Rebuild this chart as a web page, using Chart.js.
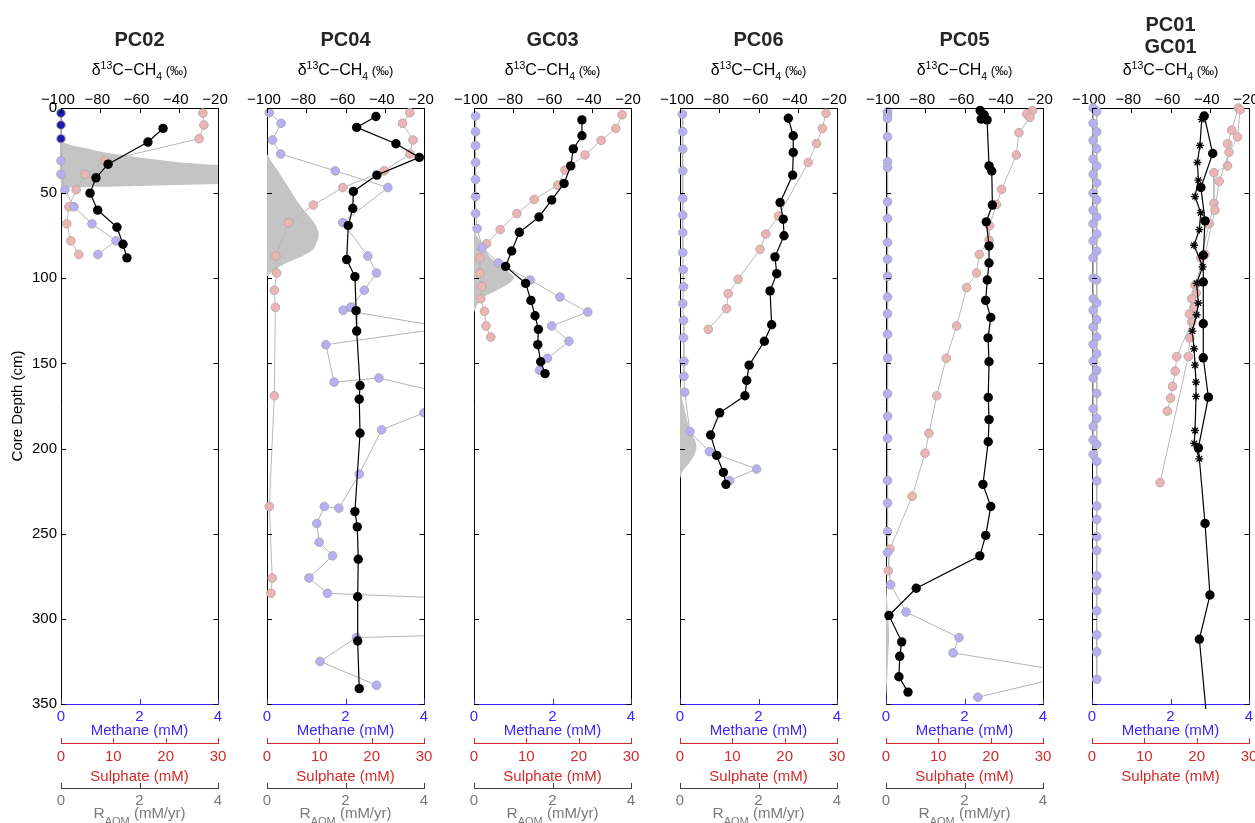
<!DOCTYPE html>
<html>
<head>
<meta charset="utf-8">
<script src="https://cdn.jsdelivr.net/npm/chart.js@4.4.1/dist/chart.umd.min.js"></script>
<style>
  body { margin: 0; background: #fff; width: 1255px; height: 823px; overflow: hidden; position: relative; }
  canvas { position: absolute; top: 0; }
</style>
</head>
<body>
<canvas id="c0" width="240" height="823" style="left:0px"></canvas>
<canvas id="c1" width="240" height="823" style="left:206px"></canvas>
<canvas id="c2" width="240" height="823" style="left:413px"></canvas>
<canvas id="c3" width="240" height="823" style="left:619px"></canvas>
<canvas id="c4" width="240" height="823" style="left:825px"></canvas>
<canvas id="c5" width="240" height="823" style="left:1031px"></canvas>
<script>
// ---- PC02 ----
const pc02Ch4Depth = [3, 10, 18, 31, 39, 48, 58, 68, 78, 86];
const pc02Ch4 = [0, 0, 0, 0, 0, 0.1, 0.33, 0.79, 1.4, 0.94];
const pc02So4Depth = [3, 10, 18, 31, 39, 48, 58, 68, 78, 86];
const pc02So4 = [27.1, 27.3, 26.4, 8.4, 4.6, 2.9, 1.5, 1.1, 1.9, 3.4];
const pc02D13Depth = [12, 20, 33, 41, 50, 60, 70, 80, 88];
const pc02D13 = [-48, -55.7, -76, -82.2, -85.2, -81.3, -71.5, -68.4, -66.4];
const pc02RaomDepth = [20, 22, 23.5, 25.5, 27.5, 30, 31.8, 33.5, 36, 40, 44, 44.7, 45.8, 46.3, 47];
const pc02Raom = [0, 0.3, 0.6, 1, 1.5, 2.3, 3, 4, 6, 8, 6, 4, 2, 1, 0];

// ---- PC04 ----
const pc04Ch4Depth = [2.7, 9, 18.8, 27, 36.9, 46.7, 67.3, 86.9, 96.9, 107, 116.9, 118.8, 129, 139, 161, 158.6, 168, 179, 189, 215, 235, 234, 244, 255, 263, 276, 285, 301, 311, 325, 339];
const pc04Ch4 = [0.06, 0.36, 0.14, 0.35, 1.74, 3.08, 1.93, 2.57, 2.79, 2.48, 2.14, 1.94, 4.6, 1.5, 1.71, 2.85, 4.6, 4.0, 2.92, 2.35, 1.83, 1.46, 1.27, 1.33, 1.67, 1.07, 1.54, 18.8, 2.28, 1.35, 2.79];
const pc04So4Depth = [2.7, 9, 18.8, 27, 36.9, 46.7, 57, 67.3, 86.9, 96.9, 107, 117, 169, 234, 276, 285];
const pc04So4 = [27.3, 25.9, 27.9, 27.3, 22.4, 14.5, 8.85, 4.1, 1.7, 1.85, 1.4, 1.6, 1.4, 0.45, 1.0, 0.76];
const pc04D13Depth = [5, 11.4, 21, 29, 39.4, 49, 59, 69, 89, 99, 119, 131, 163, 171, 191, 237, 246, 265, 287, 313, 341];
const pc04D13 = [-44.5, -54.3, -34.3, -22.4, -44, -56, -56.3, -58.6, -59.4, -55.2, -54.6, -54.3, -52.6, -53, -52.6, -55.2, -54, -53.5, -53.8, -53.8, -53];
const pc04RaomDepth = [27, 31, 36, 42, 50, 57, 63, 68, 74, 78, 83, 87, 90, 93.5, 96.5, 99];
const pc04Raom = [0, 0.1, 0.25, 0.42, 0.64, 0.84, 1.05, 1.22, 1.32, 1.28, 1.18, 0.9, 0.59, 0.3, 0.12, 0];

// ---- GC03 ----
const gc03Ch4Depth = [4.7, 13.9, 22, 32, 42, 52, 62, 70.8, 82, 91, 101, 111, 119.8, 128, 137, 147, 154];
const gc03Ch4 = [0.04, 0.04, 0.04, 0.04, 0.04, 0.04, 0.04, 0.08, 0.21, 0.62, 1.43, 2.19, 2.9, 1.98, 2.42, 1.87, 1.67];
const gc03So4Depth = [4, 12, 19, 27.6, 36.5, 45.3, 53.7, 62, 71.4, 79.6, 88, 97, 104.7, 112, 119.4, 128, 134.5];
const gc03So4 = [28.3, 27.1, 24.3, 21.2, 17.4, 16, 11.5, 8.2, 5.0, 2.4, 1.15, 1.15, 1.5, 1.3, 2.0, 2.3, 3.2];
const gc03D13Depth = [7, 16.3, 24, 34, 44.3, 54, 64, 73, 84, 93, 103, 113, 122, 130, 139, 149, 156];
const gc03D13 = [-45, -45, -49.4, -50.7, -54.1, -60.4, -66.9, -76.9, -80.8, -83.9, -73.7, -71, -68.9, -67.2, -67.5, -66, -63.8];
const gc03RaomDepth = [70, 74, 78, 83, 87.5, 91.5, 94, 97, 99.5, 102, 105, 108, 110, 113, 116, 120];
const gc03Raom = [0, 0.05, 0.15, 0.28, 0.41, 0.6, 0.75, 0.92, 1.02, 0.95, 0.75, 0.5, 0.32, 0.15, 0.07, 0];

// ---- PC06 ----
const pc06Ch4Depth = [3.7, 13.9, 24.1, 36.9, 53.1, 62.9, 73.1, 84.9, 94.9, 105, 114.9, 124.7, 134.9, 148.8, 157.6, 166.9, 190, 201.8, 212, 218.8];
const pc06Ch4 = [0.06, 0.07, 0.07, 0.07, 0.07, 0.07, 0.07, 0.07, 0.08, 0.09, 0.07, 0.09, 0.09, 0.1, 0.1, 0.12, 0.25, 0.75, 1.95, 1.26];
const pc06So4Depth = [3.1, 12, 20.8, 32, 63.5, 74, 83, 100.6, 109, 117.8, 130];
const pc06So4 = [27.9, 27.2, 26.1, 24.5, 18.8, 16.4, 15.3, 11.1, 9.2, 8.9, 5.4];
const pc06D13Depth = [6, 16.3, 26.1, 39.4, 55.5, 65.3, 75, 87.4, 97.3, 107.4, 127.3, 137, 151, 160, 169, 179, 192, 204, 214, 221];
const pc06D13 = [-44.8, -42.3, -42.3, -42.6, -49, -47.4, -47, -51.6, -50.7, -54.1, -53.3, -57, -64.8, -66, -66.9, -79.8, -84.4, -81.3, -77.9, -76.6];
const pc06RaomDepth = [160, 170, 177, 185, 191, 195, 199, 203, 207, 211, 214, 218];
const pc06Raom = [0, 0.05, 0.12, 0.2, 0.3, 0.38, 0.42, 0.38, 0.28, 0.15, 0.05, 0];

// ---- PC05 ----
const pc05Ch4Depth = [2.2, 4.1, 6.1, 16.9, 31.6, 34.9, 55.1, 64.9, 79, 88.8, 98.8, 111, 120.8, 132.9, 146.9, 167.8, 181, 194, 218.8, 232, 248.8, 261, 280, 296, 311, 320, 332, 346];
const pc05Ch4 = [0.04, 0.04, 0.04, 0.04, 0.04, 0.04, 0.04, 0.04, 0.04, 0.04, 0.04, 0.04, 0.04, 0.04, 0.04, 0.04, 0.04, 0.04, 0.04, 0.04, 0.04, 0.04, 0.12, 0.51, 1.86, 1.71, 4.9, 2.34];
const pc05So4Depth = [1.6, 3.5, 5.5, 14.5, 27.6, 47.8, 56.7, 69.2, 77.6, 86, 96.9, 105.5, 128, 147, 169, 191, 202.7, 228, 259, 271.8];
const pc05So4 = [28, 26.9, 27.5, 25.4, 24.9, 22.1, 21.1, 19.8, 19.7, 17.8, 17.3, 15.4, 13.5, 11.5, 9.7, 8.2, 7.45, 5.0, 0.76, 0.44];
const pc05D13Depth = [1.5, 4, 6.5, 7, 34, 37, 57, 66.9, 81, 91, 101, 113, 123, 135, 149, 170, 183, 196, 221, 234, 251, 263, 282, 298, 313.5, 322, 334, 343];
const pc05D13 = [-52, -50, -51.5, -48.5, -47.5, -46.1, -45.8, -48.9, -47.5, -47.5, -48.4, -49.2, -46.6, -48, -47.5, -47.9, -47.5, -47.9, -50.6, -46.6, -49.2, -52.2, -84.6, -98.5, -92, -93, -93.4, -88.8];
const pc05RaomDepth = [275, 290, 300, 310, 320, 330, 340, 348];
const pc05Raom = [0, 0.03, 0.06, 0.08, 0.06, 0.04, 0.02, 0];

// ---- PC01 / GC01 ----
const pc01Ch4Depth = [2, 14, 24, 34, 44, 54, 64, 74, 84, 101, 114.5, 124.3, 134.5, 144.3, 154.1, 167.5, 182.2, 197.6, 207.5, 219, 233.7, 241.6, 251.8, 260, 274.7, 283.5, 295.3, 309.4, 319.4, 335.5];
const pc01Ch4 = [0.12, 0.12, 0.12, 0.12, 0.12, 0.12, 0.12, 0.12, 0.12, 0.12, 0.12, 0.12, 0.12, 0.12, 0.12, 0.12, 0.12, 0.12, 0.12, 0.12, 0.12, 0.12, 0.12, 0.12, 0.12, 0.12, 0.12, 0.12, 0.12, 0.12];
const gc01Ch4Depth = [0, 9, 19, 30, 39, 50, 60, 68, 78, 88, 100, 112, 118.8, 128.6, 138.8, 148.8, 158.6, 176.6, 187, 194.9, 203.5];
const gc01Ch4 = [0.03, 0.03, 0.03, 0.03, 0.03, 0.03, 0.03, 0.03, 0.03, 0.03, 0.03, 0.03, 0.03, 0.03, 0.03, 0.03, 0.03, 0.03, 0.03, 0.03, 0.03];
const pc01So4Depth = [1, 17, 26, 43, 60, 86, 104, 112, 121, 135, 146, 220];
const pc01So4 = [28.3, 27.8, 26.2, 24.3, 23.5, 21.6, 19.7, 19.05, 18.6, 18.7, 18.4, 13.0];
const gc01So4Depth = [0, 13, 21, 34, 38, 56, 68, 88, 108.6, 117, 125.7, 146, 154.5, 163.5, 170.4, 178];
const gc01So4 = [27.95, 26.7, 25.9, 25.9, 23.3, 23.3, 22.4, 20.8, 19.9, 19.5, 19.05, 16.2, 15.9, 15.4, 15.0, 14.4];
const pc01D13Depth = [4.7, 26.7, 46.7, 66.3, 86.5, 102.2, 126.7, 146.7, 169.8, 199.6, 244, 286, 312, 365];
const pc01D13 = [-42.8, -38.5, -44.5, -42.4, -43.3, -43.3, -43.3, -43.3, -40.7, -45.8, -42.4, -39.9, -45.3, -41];
const gc01D13Depth = [6.7, 22, 32, 42.4, 52, 61.6, 71.4, 80.6, 93.3, 103, 114.5, 121.4, 131, 141.4, 151, 161, 169.4, 189.4, 197, 206];
const gc01D13 = [-44.1, -45, -46.3, -45.8, -47.5, -44.6, -45.3, -48, -43.6, -46.7, -45.8, -46.7, -48.9, -48, -47.5, -47, -47, -47.5, -47.9, -45.3];

const FONT = '"Liberation Sans", Arial, Helvetica, sans-serif';
Chart.defaults.font.family = FONT;
Chart.defaults.font.size = 15;
Chart.defaults.color = '#000';
const BLUE = '#3a25ff', RED = '#d42a2a', GRAY = '#7a7a7a';
const LAVENDER = '#b6b0f2', NAVY = '#1c1ca8';

function xy(depth, vals) { return depth.map((d, i) => ({ x: vals[i], y: d })); }
const clipM = { left: 5, top: 6, right: 0, bottom: 5 };

function ch4Set(depth, vals, darkTop) {
  return { data: xy(depth, vals), xAxisID: 'ch4', yAxisID: 'y', showLine: true,
    borderColor: '#b4b4b4', borderWidth: 1, pointRadius: 4.3,
    pointBackgroundColor: c => (c.dataIndex < (darkTop || 0) ? NAVY : LAVENDER),
    pointBorderColor: '#a9a9b9', pointBorderWidth: 1, clip: clipM };
}
function so4Set(depth, vals) {
  return { data: xy(depth, vals), xAxisID: 'so4', yAxisID: 'y', showLine: true,
    borderColor: '#b9b9b9', borderWidth: 1, pointRadius: 4.3, pointBackgroundColor: '#ebb5b5',
    pointBorderColor: '#bfa9a9', pointBorderWidth: 1, clip: clipM };
}
function d13Set(depth, vals, star) {
  return { data: xy(depth, vals), xAxisID: 'd13', yAxisID: 'y', showLine: true,
    borderColor: '#000', borderWidth: 1.2, pointRadius: star ? 4 : 4.7, pointStyle: star ? 'star' : 'circle',
    pointBackgroundColor: '#000', pointBorderColor: '#000', pointBorderWidth: star ? 1.3 : 0, clip: clipM };
}
function raomSet(depth, vals) {
  return { type: 'line', indexAxis: 'y', data: xy(depth, vals), xAxisID: 'raom', yAxisID: 'y',
    fill: { value: 0 }, backgroundColor: '#c4c4c4', borderWidth: 0, pointRadius: 0, tension: 0.3,
    clip: { left: 0, top: 0, right: 0, bottom: 0 } };
}

function rich(ctx, parts, cx, y, color) {
  ctx.fillStyle = color; ctx.textBaseline = 'alphabetic'; ctx.textAlign = 'left';
  let w = 0;
  for (const p of parts) { ctx.font = p[1] + 'px ' + FONT; w += ctx.measureText(p[0]).width; }
  let x = cx - w / 2;
  for (const p of parts) {
    ctx.font = p[1] + 'px ' + FONT;
    ctx.fillText(p[0], x, y + p[2]);
    x += ctx.measureText(p[0]).width;
  }
}

// box, inward ticks, titles and the sub/superscript labels
const deco = {
  id: 'deco',
  afterDraw(chart, args, o) {
    const { ctx, chartArea: a, scales: s } = chart;
    ctx.save();
    const line = (x1, y1, x2, y2, c) => {
      ctx.strokeStyle = c; ctx.lineWidth = 1; ctx.beginPath(); ctx.moveTo(x1, y1); ctx.lineTo(x2, y2); ctx.stroke();
    };
    const R = Math.round(a.right) + 0.5;
    line(R, a.top, R, a.bottom, '#000');
    s.y.ticks.forEach(t => {
      const py = Math.round(s.y.getPixelForValue(t.value)) + 0.5;
      line(a.left, py, a.left + 5, py, '#000');
      line(R, py, R - 5, py, '#000');
    });
    s.d13.ticks.forEach(t => {
      const px = Math.round(s.d13.getPixelForValue(t.value)) + 0.5;
      line(px, a.top, px, a.top + 5, '#000');
    });
    const up = (sc, c) => sc.ticks.forEach(t => {
      const px = Math.round(sc.getPixelForValue(t.value)) + 0.5;
      line(px, sc.top, px, sc.top - 5, c);
    });
    up(s.ch4, BLUE); up(s.so4, RED); if (s.raom) up(s.raom, '#404040');

    const cx = (a.left + a.right) / 2;
    ctx.fillStyle = '#262626'; ctx.textAlign = 'center'; ctx.textBaseline = 'alphabetic';
    ctx.font = 'bold 20px ' + FONT;
    o.title.forEach((t, i) => ctx.fillText(t, cx, o.titleY[i]));
    rich(ctx, [['\u03B4', 16, 0], ['13', 10.5, -6.5], ['C\u2212CH', 16, 0], ['4', 10.5, 4.5], [' (\u2030)', 13, 0]], cx, 75, '#000');
    if (s.raom) rich(ctx, [['R', 15.5, 0], ['AOM', 11, 6.5], [' (mM/yr)', 15, 0]], cx, 818, GRAY);
    ctx.restore();
  }
};

const noGrid = { display: false, drawTicks: false };

function panel(id, p) {
  const scales = {
    y: { type: 'linear', position: 'left', reverse: true, min: 0, max: 350,
      ticks: { stepSize: 50, display: p.first, padding: 4, color: '#000' },
      grid: noGrid, border: { color: '#000' },
      title: { display: p.first, text: 'Core Depth (cm)', color: '#000', padding: { top: 9, bottom: 0 } },
      afterFit: sc => { sc.width = 61; } },
    d13: { type: 'linear', position: 'top', min: -100, max: -20,
      ticks: { stepSize: 20, padding: -1, labelOffset: -3, maxRotation: 0, minRotation: 0, autoSkip: false,
        color: '#000', callback: v => String(v).replace('-', '\u2212') },
      grid: noGrid, border: { color: '#000' },
      afterFit: sc => { sc.height = 108; } },
    ch4: { type: 'linear', position: 'bottom', weight: 0, min: 0, max: 4,
      ticks: { stepSize: 2, padding: 4, color: BLUE, maxRotation: 0, autoSkip: false },
      grid: noGrid, border: { color: BLUE },
      title: { display: true, text: 'Methane (mM)', color: BLUE, padding: { top: 0, bottom: 3 } },
      afterFit: sc => { sc.height = 39; } },
    so4: { type: 'linear', position: 'bottom', weight: 1, min: 0, max: 30,
      ticks: { stepSize: 10, padding: 5, color: RED, maxRotation: 0, autoSkip: false },
      grid: noGrid, border: { color: RED },
      title: { display: true, text: 'Sulphate (mM)', color: RED, padding: { top: 0, bottom: 2 } },
      afterFit: sc => { sc.height = 45; } }
  };
  if (p.raom) {
    scales.raom = { type: 'linear', position: 'bottom', weight: 2, min: 0, max: 4,
      ticks: { stepSize: 2, padding: 4, color: GRAY, maxRotation: 0, autoSkip: false },
      grid: noGrid, border: { color: '#404040' },
      afterFit: sc => { sc.height = 35; } };
  }
  new Chart(document.getElementById(id), {
    type: 'scatter',
    data: { datasets: p.sets },
    options: {
      responsive: false, animation: false, events: [],
      layout: { padding: { left: 0, top: 0, right: 22, bottom: p.raom ? 0 : 35 } },
      scales,
      plugins: { legend: { display: false }, tooltip: { enabled: false },
        deco: { title: p.title, titleY: p.titleY } }
    },
    plugins: [deco]
  });
}

panel('c0', { first: true, raom: true, title: ['PC02'], titleY: [46], sets: [
  d13Set(pc02D13Depth, pc02D13), ch4Set(pc02Ch4Depth, pc02Ch4, 3), so4Set(pc02So4Depth, pc02So4), raomSet(pc02RaomDepth, pc02Raom)] });
panel('c1', { first: false, raom: true, title: ['PC04'], titleY: [46], sets: [
  d13Set(pc04D13Depth, pc04D13), ch4Set(pc04Ch4Depth, pc04Ch4), so4Set(pc04So4Depth, pc04So4), raomSet(pc04RaomDepth, pc04Raom)] });
panel('c2', { first: false, raom: true, title: ['GC03'], titleY: [46], sets: [
  d13Set(gc03D13Depth, gc03D13), ch4Set(gc03Ch4Depth, gc03Ch4), so4Set(gc03So4Depth, gc03So4), raomSet(gc03RaomDepth, gc03Raom)] });
panel('c3', { first: false, raom: true, title: ['PC06'], titleY: [46], sets: [
  d13Set(pc06D13Depth, pc06D13), ch4Set(pc06Ch4Depth, pc06Ch4), so4Set(pc06So4Depth, pc06So4), raomSet(pc06RaomDepth, pc06Raom)] });
panel('c4', { first: false, raom: true, title: ['PC05'], titleY: [46], sets: [
  d13Set(pc05D13Depth, pc05D13), ch4Set(pc05Ch4Depth, pc05Ch4), so4Set(pc05So4Depth, pc05So4), raomSet(pc05RaomDepth, pc05Raom)] });
panel('c5', { first: false, raom: false, title: ['PC01', 'GC01'], titleY: [31, 53], sets: [
  d13Set(pc01D13Depth, pc01D13), d13Set(gc01D13Depth, gc01D13, true),
  ch4Set(pc01Ch4Depth, pc01Ch4), ch4Set(gc01Ch4Depth, gc01Ch4),
  so4Set(pc01So4Depth, pc01So4), so4Set(gc01So4Depth, gc01So4)] });
</script>
</body>
</html>
